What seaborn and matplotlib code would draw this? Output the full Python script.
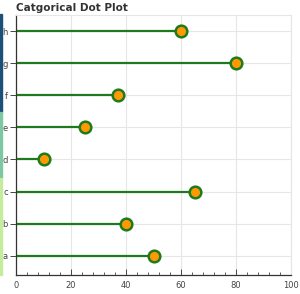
import matplotlib
matplotlib.use("Agg")
import matplotlib.pyplot as plt
import seaborn as sns
import pandas as pd
from matplotlib.patches import Rectangle

categories = ["a", "b", "c", "d", "e", "f", "g", "h"]
values = [50, 40, 65, 10, 25, 37, 80, 60]

df = pd.DataFrame({"cat": categories, "val": values})

sns.set_style("white")
plt.rcParams["font.family"] = ["DejaVu Sans"]

fig = plt.figure(figsize=(3.0, 2.94), dpi=100)
ax = fig.add_axes([16 / 300, 19 / 294, 275 / 300, 260 / 294])

# stems from zero to value
ax.hlines(df["cat"], 0, df["val"], color="#1f7a1f", lw=1.6, zorder=2)
sns.scatterplot(data=df, x="val", y="cat", ax=ax, s=70, color="#ff9900",
                edgecolor="#1f7a1f", linewidth=1.8, zorder=3)

ax.set_xlim(0, 100)
ax.set_ylim(-0.6, 7.5)
ax.set_xticks([0, 20, 40, 60, 80, 100])
ax.set_xticks(range(0, 101, 4), minor=True)
ax.grid(True, color="#e6e6e6", lw=0.8, zorder=0)
ax.set_axisbelow(True)
ax.set_xlabel("")
ax.set_ylabel("")

for s in ["top", "right"]:
    ax.spines[s].set_color("#e6e6e6")
    ax.spines[s].set_linewidth(0.8)
for s in ["left", "bottom"]:
    ax.spines[s].set_color("#333333")
    ax.spines[s].set_linewidth(0.9)

ax.tick_params(axis="y", left=True, labelsize=6, colors="#444444", length=4,
               width=0.7, direction="out", pad=2)
ax.tick_params(axis="x", which="both", bottom=True, direction="in",
               colors="#444444", labelsize=6, pad=4)
ax.tick_params(axis="x", which="major", length=4, width=0.7)
ax.tick_params(axis="x", which="minor", length=2, width=0.6)

fig.text(16 / 300, 1 - 8 / 294, "Catgorical Dot Plot", fontsize=7.5, fontweight="bold",
         va="center", ha="left", color="#333333")

# coloured strip on the far left
strip = [(14, 112, "#1d4f7a"), (112, 178, "#7cc8a0"), (178, 275, "#c4ec9c")]
for top, bot, c in strip:
    fig.patches.append(Rectangle((0, 1 - bot / 294), 2 / 300, (bot - top) / 294,
                                 transform=fig.transFigure, color=c, zorder=5))

fig.savefig("out.png", dpi=100)
